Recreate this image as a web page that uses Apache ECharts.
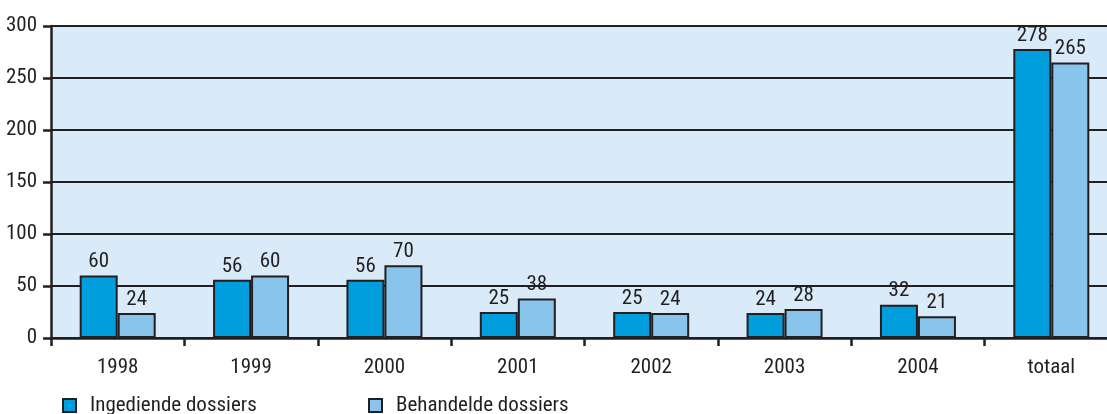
<!DOCTYPE html>
<html><head><meta charset="utf-8">
<script src="https://cdn.jsdelivr.net/npm/echarts@6/dist/echarts.min.js"></script>
<style>html,body{margin:0;padding:0;background:#fff;overflow:hidden;width:1107px;height:414px}#c{width:1118px;height:414px}</style>
</head><body><div id="c"></div>
<script>
const categories = ['1998','1999','2000','2001','2002','2003','2004','totaal'];
const ingediende = [60,56,56,25,25,24,32,278];
const behandelde = [24,60,70,38,24,28,21,265];
const yTicks = [0,50,100,150,200,250,300];
const seriesNames = ['Ingediende dossiers','Behandelde dossiers'];

const FONT = '"Roboto Condensed","DejaVu Sans Condensed",sans-serif';
const INK = '#231F20';
const FS = 21;
const chart = echarts.init(document.getElementById('c'), null, {renderer:'canvas'});
const labelStyle = {show:true, position:'top', distance:3, color:INK, fontFamily:FONT, fontSize:FS};
chart.setOption({
  animation:false,
  grid:{left:51, top:26, right:0, bottom:76, show:true, backgroundColor:'#D9EAF8', borderWidth:0},
  legend:[
    {data:[seriesNames[0]], left:62, top:395, itemWidth:13, itemHeight:13, icon:'rect', padding:0,
     textStyle:{fontFamily:FONT, fontSize:FS, color:INK, padding:[0,0,0,9]}},
    {data:[seriesNames[1]], left:368, top:395, itemWidth:13, itemHeight:13, icon:'rect', padding:0,
     textStyle:{fontFamily:FONT, fontSize:FS, color:INK, padding:[0,0,0,9]}}
  ],
  xAxis:{type:'category', data:categories,
    axisLine:{lineStyle:{color:INK, width:2.5}},
    axisTick:{show:true, length:8, lineStyle:{color:INK, width:2.5}},
    axisLabel:{fontFamily:FONT, fontSize:FS, color:INK, margin:19}},
  yAxis:{type:'value', min:yTicks[0], max:yTicks[yTicks.length-1], interval:50,
    axisLine:{show:true, lineStyle:{color:INK, width:2.5}},
    axisTick:{show:true, length:8, lineStyle:{color:INK, width:2.5}},
    splitLine:{lineStyle:{color:INK, width:2}},
    axisLabel:{fontFamily:FONT, fontSize:FS, color:INK, margin:14}},
  series:[
    {name:seriesNames[0], type:'bar', data:ingediende, barWidth:38, barGap:'0%',
     itemStyle:{color:'#009EDD', borderColor:INK, borderWidth:2}, label:labelStyle},
    {name:seriesNames[1], type:'bar', data:behandelde, barWidth:38, barGap:'0%',
     itemStyle:{color:'#89C4EC', borderColor:INK, borderWidth:2}, label:labelStyle}
  ]
});
</script></body></html>
